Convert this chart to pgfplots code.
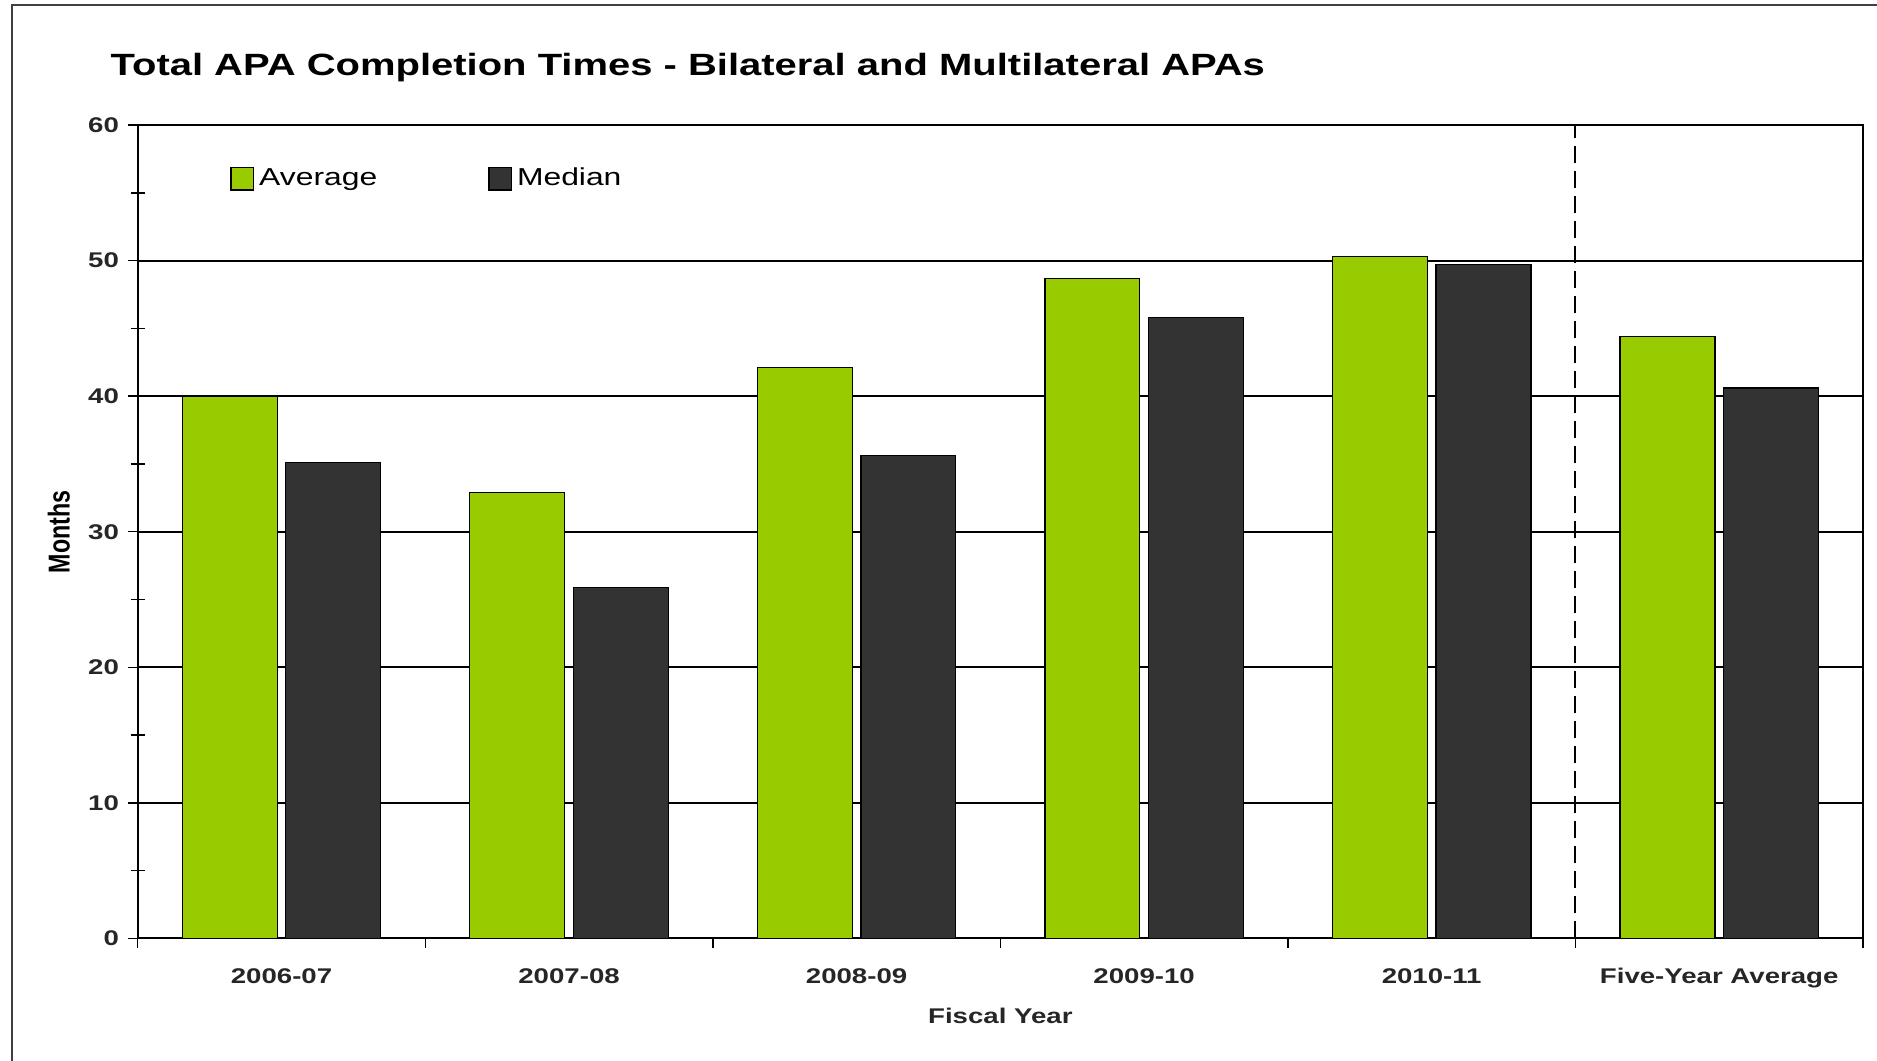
\documentclass[border=0pt]{standalone}
\usepackage{fontspec}
\setmainfont{Liberation Sans}[FakeStretch=1.3]
\newfontfamily\plainfont{Liberation Sans}
\usepackage{graphicx}
\usepackage{pgfplots}
\pgfplotsset{compat=1.18}
\definecolor{avggreen}{HTML}{99CC00}
\definecolor{meddark}{HTML}{333333}

\begin{document}
\begin{tikzpicture}
\path[use as bounding box] (0,0) rectangle (750.8pt,424.4pt);
\draw[line width=0.8pt, black!75] (4.8pt,0) -- (4.8pt,422.4pt) -- (750.8pt,422.4pt);
\begin{axis}[
  at={(55.1pt,49pt)}, anchor=south west,
  scale only axis, width=690.1pt, height=325.4pt,
  xmin=-0.5, xmax=5.5, ymin=0, ymax=60,
  axis line style={black, line width=0.8pt},
  xtick={-0.5,0.5,1.5,2.5,3.5,4.5,5.5},
  xticklabels={},
  extra x ticks={0,1,2,3,4,5},
  extra x tick labels={2006-07,2007-08,2008-09,2009-10,2010-11,Five-Year Average},
  extra x tick style={major tick length=0pt, grid=none},
  xticklabel style={font=\fontsize{8.5}{10}\selectfont\bfseries, anchor=base, yshift=-17.9pt, text=black!85},
  xtick pos=lower, ytick pos=left,
  ytick={0,10,...,60},
  minor ytick={5,15,...,55},
  tick align=outside,
  major tick length=4pt,
  minor tick length=5.6pt,
  minor y tick style={xshift=2.8pt},
  tick style={black, line width=0.6pt},
  ymajorgrids,
  grid style={black, line width=0.75pt},
  yticklabel style={font=\fontsize{8.5}{10}\selectfont\bfseries, text=black!85},
  /pgf/number format/assume math mode=true,
  title={Total APA Completion Times - Bilateral and Multilateral APAs},
  title style={at={(axis description cs:-0.016,1.043)}, anchor=base west, font=\fontsize{12.3}{14}\selectfont\bfseries, inner sep=0pt},
  xlabel={Fiscal Year},
  every axis x label/.style={at={(axis description cs:0.5,-0.1046)}, anchor=base, font=\fontsize{8.5}{10}\selectfont\bfseries, text=black!85},
  ylabel={\scalebox{1}[1.3]{\plainfont\fontsize{9.3}{11}\selectfont\bfseries Months}},
  every axis y label/.style={at={(axis description cs:-0.0458,0.5)}, rotate=90, anchor=center},
  legend columns=2,
  legend style={at={(axis description cs:0.0491,0.934)}, anchor=west, draw=none, fill=none,
    font=\fontsize{9.8}{12}\selectfont, /tikz/every even column/.append style={column sep=42.4pt}},
  legend cell align=left,
]
\addplot[ybar, bar width=0.33, bar shift=-0.18, fill=avggreen, draw=black, line width=0.5pt,
  legend image code/.code={\draw[fill=avggreen, draw=black, line width=0.5pt] (0pt,-4.5pt) rectangle (9pt,4.5pt);}]
  coordinates {(0,40.0) (1,32.9) (2,42.1) (3,48.7) (4,50.3) (5,44.4)};
\addlegendentry{Average}
\addplot[ybar, bar width=0.33, bar shift=0.18, fill=meddark, draw=black, line width=0.5pt,
  legend image code/.code={\draw[fill=meddark, draw=black, line width=0.5pt] (0pt,-4.5pt) rectangle (9pt,4.5pt);}]
  coordinates {(0,35.1) (1,25.9) (2,35.6) (3,45.8) (4,49.7) (5,40.6)};
\addlegendentry{Median}
\addplot[forget plot, black, line width=0.8pt, dash pattern=on 7pt off 3pt]
  coordinates {(4.5,0) (4.5,60)};
\end{axis}
\end{tikzpicture}
\end{document}
